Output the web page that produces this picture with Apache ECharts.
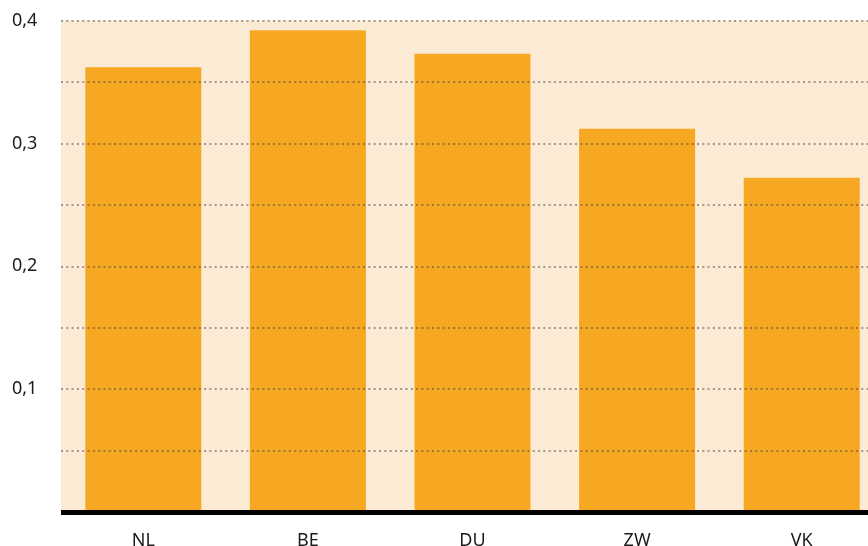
<!DOCTYPE html>
<html><head><meta charset="utf-8">
<script src="https://cdn.jsdelivr.net/npm/echarts@6/dist/echarts.min.js"></script>
<style>html,body{margin:0;padding:0;background:#fff}#c{width:868px;height:546px}</style>
</head><body><div id="c"></div>
<script>
const categories = ['NL', 'BE', 'DU', 'ZW', 'VK'];
const values = [0.362, 0.392, 0.373, 0.312, 0.272];
const tickLabels = ['0,1', '0,2', '0,3', '0,4'];

const chart = echarts.init(document.getElementById('c'));
chart.setOption({
  animation: false,
  grid: { left: 61, right: -16, top: 20.5, bottom: 34, show: true, backgroundColor: '#FCEBD4', borderWidth: 0, outerBoundsMode: 'none', containLabel: false },
  xAxis: {
    type: 'category', data: categories, z: 6,
    axisLine: { lineStyle: { color: '#000', width: 5, cap: 'butt' } },
    axisTick: { show: false },
    axisLabel: { color: '#1a1a1a', fontSize: 18, fontFamily: 'Noto Sans', margin: 20 }
  },
  yAxis: {
    type: 'value', min: 0, max: 0.4, interval: 0.05, z: 5,
    axisLine: { show: false }, axisTick: { show: false },
    axisLabel: {
      align: 'left', margin: 49, color: '#1a1a1a', fontSize: 18, fontFamily: 'Noto Sans',
      formatter: function (v) {
        const k = Math.round(v * 10) / 10;
        if (Math.abs(v - k) > 1e-6 || k === 0) return '';
        const idx = Math.round(k * 10) - 1;
        return tickLabels[idx] || '';
      }
    },
    splitLine: { show: true, lineStyle: { color: 'rgba(70,65,60,0.5)', width: 2, type: [2, 3.3] } }
  },
  series: [{
    type: 'bar', data: values, barWidth: '70.5%',
    itemStyle: { color: '#F7A823' }
  }]
});
</script></body></html>
